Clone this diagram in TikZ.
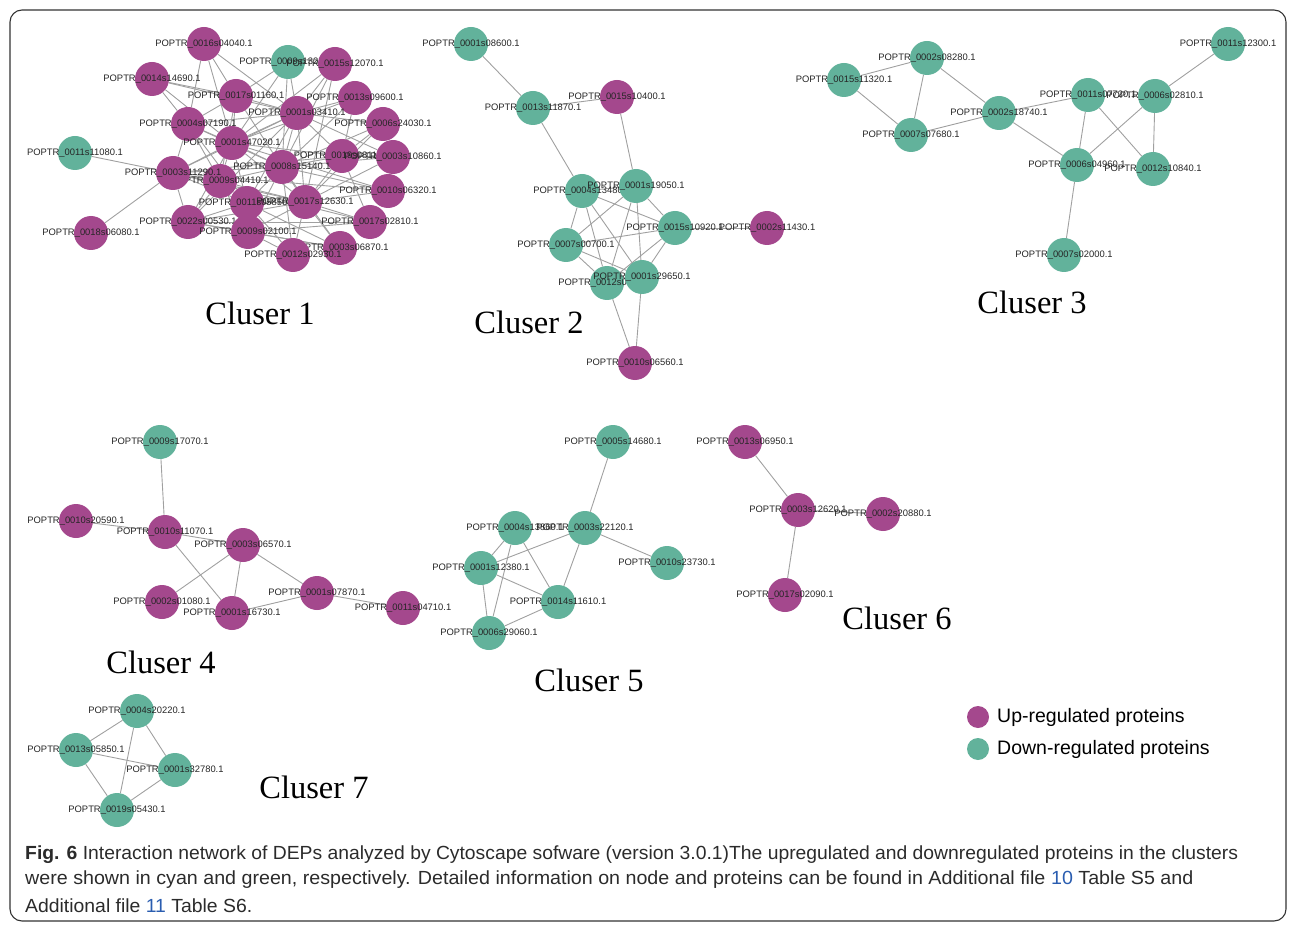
\documentclass[tikz,border=0pt]{standalone}
\usepackage{fontspec}
\setmainfont{Liberation Sans}
\newfontfamily\serifc{Liberation Serif}
\usepackage{graphicx}
\definecolor{upc}{HTML}{A4488D}
\definecolor{downc}{HTML}{62B29B}
\definecolor{edgec}{HTML}{A0A0A0}
\definecolor{linkc}{HTML}{2A5DB0}
\definecolor{capc}{HTML}{2B2B2B}
\pgfdeclarelayer{bg}
\pgfsetlayers{bg,main}
\tikzset{
 up/.style={circle,fill=upc,minimum size=34pt,inner sep=0pt},
 down/.style={circle,fill=downc,minimum size=34pt,inner sep=0pt},
 lbl/.style={font=\fontsize{9.4}{10}\selectfont,text=black!85,inner sep=0pt},
 edge/.style={draw=edgec,line width=0.9pt},
 cl/.style={font=\serifc\fontsize{32.5}{34}\selectfont,inner sep=0pt},
 legtxt/.style={font=\fontsize{19.5}{21}\selectfont,anchor=west,inner sep=0pt},
 capline/.style={anchor=west,inner sep=0pt,text=capc},
 frame/.style={draw=black!80,line width=1.1pt,rounded corners=12pt},
}
\newcommand\prot[4]{\node[#3] (#1) at (#2) {}; \node[lbl] (#1t) at (#1) {#4};}
\begin{document}
\begin{tikzpicture}[x=1pt,y=-1pt]
\useasboundingbox (0,0) rectangle (1290,925);
\draw[frame] (10,10) rectangle (1286,921);
% ---------- Cluster 1 ----------
\prot{a1}{204,44}{up}{POPTR\_0016s04040.1}
\prot{a4}{152,79}{up}{POPTR\_0014s14690.1}
\prot{a2}{288,62}{down}{POPTR\_0009s13220.1}
\prot{a3}{335,64}{up}{POPTR\_0015s12070.1}
\prot{a5}{236,96}{up}{POPTR\_0017s01160.1}
\prot{a6}{355,98}{up}{POPTR\_0013s09600.1}
\prot{a7}{297,113}{up}{POPTR\_0001s03410.1}
\prot{a8}{188,124}{up}{POPTR\_0004s07190.1}
\prot{a9}{383,124}{up}{POPTR\_0006s24030.1}
\prot{a10}{232,143}{up}{POPTR\_0001s47020.1}
\prot{a11}{75,153}{down}{POPTR\_0011s11080.1}
\prot{a12}{342,156}{up}{POPTR\_0019s08110.1}
\prot{a13}{393,157}{up}{POPTR\_0003s10860.1}
\prot{a14}{282,167}{up}{POPTR\_0008s15140.1}
\prot{a16}{220,181}{up}{POPTR\_0009s04410.1}
\prot{a15}{173,173}{up}{POPTR\_0003s11290.1}
\prot{a17}{388,191}{up}{POPTR\_0010s06320.1}
\prot{a18}{247,203}{up}{POPTR\_0011s05850.1}
\prot{a19}{305,202}{up}{POPTR\_0017s12630.1}
\prot{a20}{188,222}{up}{POPTR\_0022s00530.1}
\prot{a21}{370,222}{up}{POPTR\_0017s02810.1}
\prot{a22}{91,233}{up}{POPTR\_0018s06080.1}
\prot{a23}{248,232}{up}{POPTR\_0009s02100.1}
\prot{a24}{340,248}{up}{POPTR\_0003s06870.1}
\prot{a25}{293,255}{up}{POPTR\_0012s02930.1}
\node[cl] (cl1) at (260,313) {Cluser 1};
% ---------- Cluster 2 ----------
\prot{b1}{471,44}{down}{POPTR\_0001s08600.1}
\prot{b2}{533,108}{down}{POPTR\_0013s11870.1}
\prot{b3}{617,97}{up}{POPTR\_0015s10400.1}
\prot{b4}{582,191}{down}{POPTR\_0004s13480.1}
\prot{b5}{636,186}{down}{POPTR\_0001s19050.1}
\prot{b6}{675,228}{down}{POPTR\_0015s10920.1}
\prot{b7}{767,228}{up}{POPTR\_0002s11430.1}
\prot{b8}{566,245}{down}{POPTR\_0007s00700.1}
\prot{b9}{607,283}{down}{POPTR\_0012s06250.1}
\prot{b10}{642,277}{down}{POPTR\_0001s29650.1}
\prot{b11}{635,363}{up}{POPTR\_0010s06560.1}
\node[cl] (cl2) at (529,322) {Cluser 2};
% ---------- Cluster 3 ----------
\prot{c1}{927,58}{down}{POPTR\_0002s08280.1}
\prot{c2}{844,80}{down}{POPTR\_0015s11320.1}
\prot{c3}{911,135}{down}{POPTR\_0007s07680.1}
\prot{c4}{999,113}{down}{POPTR\_0002s18740.1}
\prot{c5}{1088,95}{down}{POPTR\_0011s07720.1}
\prot{c6}{1155,96}{down}{POPTR\_0006s02810.1}
\prot{c7}{1228,44}{down}{POPTR\_0011s12300.1}
\prot{c8}{1077,165}{down}{POPTR\_0006s04960.1}
\prot{c9}{1153,169}{down}{POPTR\_0012s10840.1}
\prot{c10}{1064,255}{down}{POPTR\_0007s02000.1}
\node[cl] (cl3) at (1032,302) {Cluser 3};
% ---------- Cluster 4 ----------
\prot{d1}{160,442}{down}{POPTR\_0009s17070.1}
\prot{d2}{76,521}{up}{POPTR\_0010s20590.1}
\prot{d3}{165,532}{up}{POPTR\_0010s11070.1}
\prot{d4}{243,545}{up}{POPTR\_0003s06570.1}
\prot{d5}{162,602}{up}{POPTR\_0002s01080.1}
\prot{d6}{232,613}{up}{POPTR\_0001s16730.1}
\prot{d7}{317,593}{up}{POPTR\_0001s07870.1}
\prot{d8}{403,608}{up}{POPTR\_0011s04710.1}
\node[cl] (cl4) at (161,662) {Cluser 4};
% ---------- Cluster 5 ----------
\prot{e1}{613,442}{down}{POPTR\_0005s14680.1}
\prot{e2}{515,528}{down}{POPTR\_0004s13860.1}
\prot{e3}{585,528}{down}{POPTR\_0003s22120.1}
\prot{e4}{667,563}{down}{POPTR\_0010s23730.1}
\prot{e5}{481,568}{down}{POPTR\_0001s12380.1}
\prot{e6}{558,602}{down}{POPTR\_0014s11610.1}
\prot{e7}{489,633}{down}{POPTR\_0006s29060.1}
\node[cl] (cl5) at (589,680) {Cluser 5};
% ---------- Cluster 6 ----------
\prot{f1}{745,442}{up}{POPTR\_0013s06950.1}
\prot{f2}{798,510}{up}{POPTR\_0003s12620.1}
\prot{f3}{883,514}{up}{POPTR\_0002s20880.1}
\prot{f4}{785,595}{up}{POPTR\_0017s02090.1}
\node[cl] (cl6) at (897,618) {Cluser 6};
% ---------- Cluster 7 ----------
\prot{g1}{137,711}{down}{POPTR\_0004s20220.1}
\prot{g2}{76,750}{down}{POPTR\_0013s05850.1}
\prot{g3}{175,770}{down}{POPTR\_0001s32780.1}
\prot{g4}{117,810}{down}{POPTR\_0019s05430.1}
\node[cl] (cl7) at (314,787) {Cluser 7};
% ---------- edges ----------
\begin{pgfonlayer}{bg}
\foreach \u/\v in {a1/a5,a1/a8,a1/a7,a1/a10,a4/a8,a4/a5,a4/a7,a4/a10,
 a2/a5,a2/a7,a2/a14,a2/a10,a3/a7,a3/a10,a3/a14,a3/a19,
 a5/a7,a5/a8,a5/a10,a5/a16,a5/a14,a6/a7,a6/a14,a6/a12,a6/a10,
 a7/a8,a7/a10,a7/a12,a7/a14,a7/a15,a7/a19,a7/a18,a7/a20,a7/a9,a7/a13,
 a8/a10,a8/a15,a8/a16,a8/a14,a8/a18,a9/a12,a9/a14,a9/a19,
 a10/a15,a10/a16,a10/a14,a10/a12,a10/a18,a10/a20,a10/a19,
 a12/a14,a12/a19,a12/a21,a12/a15,a12/a13,a13/a14,a13/a19,
 a14/a15,a14/a16,a14/a19,a14/a17,a14/a18,a14/a23,
 a15/a16,a15/a20,a15/a18,a15/a19,a15/a17,a15/a11,a15/a22,
 a16/a20,a16/a18,a16/a19,a16/a23,a17/a19,a17/a10,
 a18/a19,a18/a20,a18/a23,a18/a24,a19/a20,a19/a21,a19/a23,a19/a24,a19/a25,
 a20/a23,a20/a21,a21/a23,a21/a15,a23/a25,a23/a24,a24/a20,a24/a14,a25/a14,a25/a18,
 b1/b2,b2/b3,b2/b4,b3/b5,b4/b5,b4/b6,b4/b8,b4/b9,b4/b10,b5/b8,b5/b6,b5/b9,b5/b10,
 b6/b7,b6/b8,b6/b9,b6/b10,b8/b9,b8/b10,b9/b11,b10/b11,
 c2/c1,c2/c3,c1/c3,c1/c4,c3/c4,c4/c5,c4/c8,c5/c8,c5/c9,c6/c8,c6/c9,c6/c7,c8/c10,
 d1/d3,d2/d3,d3/d4,d3/d6,d4/d5,d4/d6,d4/d7,d6/d7,d7/d8,
 e1/e3,e3/e4,e3/e5,e3/e6,e2/e5,e2/e6,e2/e7,e5/e6,e5/e7,e6/e7,
 f1/f2,f2/f3,f2/f4,
 g1/g2,g1/g3,g1/g4,g2/g3,g2/g4,g3/g4}
 \draw[edge] (\u) -- (\v);
\end{pgfonlayer}
% ---------- legend ----------
\node[circle,fill=upc,minimum size=22pt,inner sep=0pt] (lu) at (978,717) {};
\node[legtxt] (lut) at (997,717) {Up-regulated proteins};
\node[circle,fill=downc,minimum size=22pt,inner sep=0pt] (ld) at (978,749) {};
\node[legtxt] (ldt) at (997,749) {Down-regulated proteins};
% ---------- caption ----------
\node[capline] (cap1) at (25,855) {\resizebox{1213pt}{\height}{\fontsize{19}{21}\selectfont\textbf{Fig. 6} Interaction network of DEPs analyzed by Cytoscape sofware (version 3.0.1)The upregulated and downregulated proteins in the clusters}};
\node[capline] (cap2) at (25,880) {\resizebox{1168pt}{\height}{\fontsize{19}{21}\selectfont were shown in cyan and green, respectively. Detailed information on node and proteins can be found in Additional file \textcolor{linkc}{10} Table S5 and}};
\node[capline] (cap3) at (25,906) {\resizebox{227pt}{\height}{\fontsize{19}{21}\selectfont Additional file \textcolor{linkc}{11} Table S6.}};
\end{tikzpicture}
\end{document}
